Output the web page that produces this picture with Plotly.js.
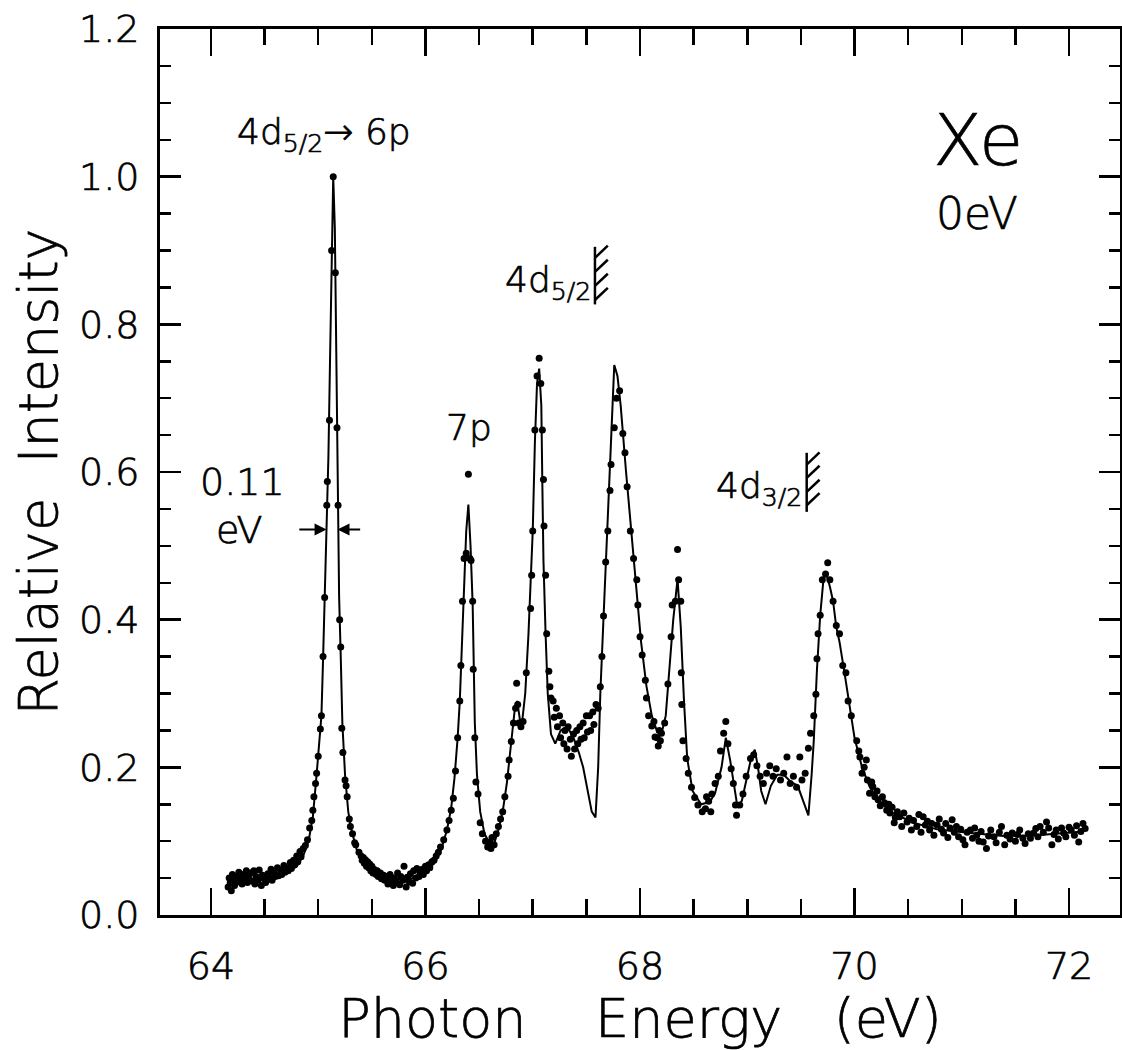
<!DOCTYPE html>
<html><head><meta charset="utf-8">
<script src="https://cdn.plot.ly/plotly-3.0.1.min.js"></script>
<style>body{margin:0;background:#fff} .main-svg text{stroke:#000;stroke-width:0.7px}</style>
</head><body><div id="chart" style="width:1122px;height:1050px"></div>
<script>
// Fitted curve (photon energy eV, relative intensity)
const fitCurve = [[64.20,0.045],[64.35,0.046],[64.50,0.048],[64.62,0.052],[64.72,0.058],[64.80,0.066],[64.86,0.080],[64.91,0.100],[64.95,0.133],[64.985,0.190],[65.01,0.230],[65.03,0.270],[65.045,0.345],[65.06,0.420],[65.08,0.520],[65.095,0.620],[65.11,0.750],[65.125,0.900],[65.14,1.000],[65.155,0.930],[65.165,0.780],[65.18,0.555],[65.195,0.430],[65.21,0.350],[65.225,0.260],[65.25,0.190],[65.28,0.140],[65.31,0.115],[65.36,0.088],[65.42,0.072],[65.50,0.060],[65.60,0.053],[65.75,0.048],[65.90,0.050],[66.00,0.058],[66.08,0.070],[66.15,0.090],[66.20,0.115],[66.24,0.145],[66.27,0.185],[66.30,0.240],[66.32,0.290],[66.34,0.360],[66.36,0.450],[66.38,0.520],[66.40,0.556],[66.42,0.500],[66.44,0.420],[66.45,0.340],[66.46,0.260],[66.48,0.190],[66.51,0.140],[66.55,0.110],[66.60,0.097],[66.64,0.097],[66.68,0.115],[66.72,0.140],[66.76,0.180],[66.80,0.235],[66.83,0.275],[66.855,0.290],[66.88,0.265],[66.90,0.260],[66.93,0.300],[66.96,0.380],[66.98,0.440],[67.00,0.520],[67.02,0.640],[67.04,0.720],[67.06,0.740],[67.08,0.690],[67.09,0.580],[67.10,0.480],[67.12,0.380],[67.14,0.300],[67.17,0.245],[67.21,0.232],[67.26,0.250],[67.32,0.255],[67.38,0.240],[67.43,0.220],[67.47,0.200],[67.51,0.170],[67.55,0.140],[67.585,0.132],[67.61,0.200],[67.63,0.300],[67.66,0.405],[67.68,0.480],[67.71,0.575],[67.735,0.660],[67.76,0.745],[67.79,0.730],[67.82,0.690],[67.87,0.600],[67.92,0.515],[67.97,0.440],[68.01,0.370],[68.06,0.310],[68.11,0.270],[68.16,0.248],[68.20,0.245],[68.24,0.270],[68.27,0.330],[68.31,0.400],[68.35,0.455],[68.38,0.390],[68.41,0.290],[68.44,0.212],[68.49,0.168],[68.57,0.150],[68.65,0.153],[68.70,0.165],[68.76,0.200],[68.80,0.240],[68.84,0.210],[68.87,0.180],[68.91,0.145],[68.95,0.155],[69.00,0.190],[69.04,0.215],[69.07,0.224],[69.10,0.200],[69.13,0.168],[69.17,0.150],[69.22,0.175],[69.28,0.190],[69.34,0.190],[69.41,0.180],[69.47,0.175],[69.52,0.155],[69.57,0.135],[69.60,0.190],[69.62,0.236],[69.65,0.333],[69.68,0.406],[69.71,0.454],[69.735,0.463],[69.77,0.445],[69.80,0.425],[69.83,0.390],[69.86,0.370],[69.91,0.325],[69.96,0.280],[70.00,0.240],[70.07,0.200],[70.14,0.174],[70.24,0.152],[70.36,0.138],[70.55,0.125],[70.77,0.116],[71.08,0.111],[71.39,0.107],[71.70,0.108],[72.13,0.113]];

// Measured points (photon energy eV, relative intensity)
const measured = [
[64.16,0.038],[64.17,0.050],[64.18,0.044],[64.19,0.033],[64.20,0.055],[64.21,0.046],[64.22,0.040],[64.24,0.052],[64.25,0.045],[64.26,0.058],[64.27,0.048],[64.29,0.042],[64.30,0.055],[64.31,0.050],[64.33,0.060],[64.34,0.044],[64.35,0.052],[64.37,0.057],[64.38,0.046],[64.40,0.060],[64.41,0.042],[64.42,0.052],[64.44,0.047],[64.45,0.061],[64.47,0.040],[64.48,0.054],[64.50,0.049],[64.51,0.044],[64.53,0.056],[64.54,0.051],[64.56,0.062],[64.57,0.047],[64.59,0.057],[64.60,0.052],[64.62,0.064],[64.63,0.053],[64.65,0.060],[64.66,0.055],[64.68,0.067],[64.69,0.058],[64.71,0.064],[64.72,0.060],[64.74,0.071],[64.75,0.063],[64.77,0.074],[64.78,0.068],[64.80,0.080],[64.81,0.072],[64.83,0.086],[64.84,0.079],[64.86,0.090],
[64.88,0.094],[64.90,0.102],[64.92,0.118],[64.94,0.128],[64.95,0.142],[64.96,0.160],[64.975,0.178],[64.985,0.192],[65.00,0.215],[65.02,0.252],[65.03,0.270],[65.045,0.350],[65.06,0.430],[65.08,0.555],[65.085,0.587],[65.105,0.670],[65.125,0.900],[65.14,1.000],[65.16,0.870],[65.175,0.660],[65.185,0.555],[65.20,0.400],[65.21,0.363],[65.22,0.253],[65.23,0.220],[65.25,0.183],[65.26,0.175],[65.27,0.160],[65.29,0.130],[65.30,0.120],[65.32,0.110],[65.34,0.098],[65.35,0.095],[65.38,0.085],
[65.40,0.080],[65.41,0.074],[65.42,0.078],[65.43,0.070],[65.44,0.075],[65.45,0.066],[65.46,0.072],[65.47,0.064],[65.48,0.069],[65.49,0.060],[65.50,0.066],[65.51,0.057],[65.52,0.062],[65.54,0.055],[65.55,0.060],[65.56,0.052],[65.58,0.057],[65.59,0.049],[65.61,0.054],
[65.62,0.047],[65.64,0.052],[65.65,0.042],[65.67,0.055],[65.68,0.046],[65.70,0.040],[65.71,0.050],[65.73,0.044],[65.74,0.057],[65.76,0.041],[65.77,0.052],[65.79,0.047],[65.80,0.066],[65.82,0.038],[65.83,0.051],[65.85,0.045],[65.86,0.056],[65.88,0.043],[65.89,0.060],[65.91,0.050],[65.92,0.063],[65.94,0.052],[65.95,0.058],[65.97,0.062],[65.98,0.055],[66.00,0.066],[66.01,0.060],[66.03,0.068],[66.04,0.064],[66.06,0.072],[66.08,0.074],[66.10,0.080],
[66.12,0.085],[66.14,0.092],[66.17,0.102],[66.20,0.115],[66.22,0.128],[66.24,0.142],[66.26,0.158],[66.28,0.195],[66.30,0.240],[66.32,0.290],[66.33,0.338],[66.345,0.425],[66.36,0.483],[66.38,0.490],[66.40,0.597],[66.415,0.483],[66.425,0.480],[66.44,0.425],[66.445,0.333],[66.46,0.240],[66.47,0.180],[66.49,0.164],[66.51,0.125],[66.53,0.110],[66.56,0.100],[66.58,0.092],[66.60,0.098],[66.61,0.090],[66.62,0.105],[66.64,0.095],[66.66,0.110],[66.68,0.120],[66.70,0.130],[66.72,0.140],[66.74,0.160],[66.77,0.188],[66.78,0.210],[66.80,0.235],[66.82,0.260],[66.84,0.280],[66.85,0.314],[66.86,0.285],[66.87,0.260],[66.89,0.255],[66.91,0.262],[66.94,0.328],[66.98,0.415],[66.99,0.460],[67.00,0.520],[67.02,0.657],[67.04,0.730],[67.06,0.754],[67.075,0.720],[67.09,0.657],[67.10,0.590],[67.105,0.527],[67.12,0.460],[67.13,0.381],[67.15,0.330],[67.16,0.309],[67.17,0.294],
[67.19,0.290],[67.20,0.268],[67.22,0.280],[67.23,0.255],[67.25,0.270],[67.26,0.240],[67.28,0.260],[67.29,0.232],[67.30,0.250],[67.32,0.225],[67.33,0.255],[67.35,0.238],[67.36,0.215],[67.38,0.245],[67.39,0.225],[67.41,0.250],[67.42,0.232],[67.44,0.255],[67.45,0.238],[67.47,0.260],[67.48,0.240],[67.50,0.270],[67.51,0.248],[67.53,0.270],[67.54,0.250],[67.56,0.275],[67.57,0.258],[67.59,0.285],[67.61,0.280],
[67.63,0.309],[67.645,0.350],[67.66,0.405],[67.68,0.478],[67.70,0.520],[67.72,0.575],[67.73,0.610],[67.76,0.660],[67.78,0.700],[67.81,0.710],[67.84,0.652],[67.86,0.626],[67.88,0.580],[67.91,0.520],[67.94,0.483],[67.97,0.454],[67.98,0.420],[68.00,0.377],[68.02,0.352],[68.05,0.318],[68.06,0.294],[68.08,0.270],[68.11,0.256],[68.13,0.262],[68.14,0.241],[68.16,0.240],[68.17,0.229],[68.18,0.250],[68.19,0.236],[68.20,0.246],[68.23,0.260],[68.26,0.313],[68.29,0.377],[68.30,0.420],[68.33,0.425],[68.35,0.495],[68.36,0.454],[68.38,0.425],[68.385,0.328],[68.39,0.285],[68.40,0.236],[68.43,0.212],[68.45,0.192],[68.48,0.173],[68.51,0.159],[68.54,0.149],[68.58,0.140],[68.61,0.144],[68.62,0.160],[68.64,0.154],[68.66,0.140],[68.67,0.164],[68.70,0.178],[68.73,0.188],[68.75,0.222],[68.78,0.246],[68.80,0.262],[68.82,0.232],[68.85,0.198],[68.87,0.178],[68.89,0.149],[68.90,0.135],[68.93,0.149],[68.96,0.164],[68.99,0.188],[69.03,0.212],[69.06,0.217],[69.09,0.202],[69.12,0.188],[69.15,0.178],[69.18,0.192],[69.21,0.202],[69.24,0.188],[69.27,0.198],[69.31,0.183],[69.34,0.192],[69.37,0.214],[69.40,0.178],[69.43,0.188],[69.46,0.173],[69.49,0.214],[69.51,0.183],[69.54,0.192],[69.57,0.226],[69.59,0.246],[69.62,0.270],[69.64,0.299],[69.65,0.347],[69.66,0.381],[69.68,0.406],[69.70,0.454],[69.73,0.462],[69.75,0.477],[69.77,0.454],[69.80,0.425],[69.83,0.392],[69.86,0.381],[69.89,0.338],[69.92,0.328],[69.94,0.290],[69.97,0.270],[70.02,0.236],[70.04,0.222],
[70.05,0.214],[70.07,0.192],[70.09,0.200],[70.11,0.210],[70.12,0.183],[70.14,0.165],[70.16,0.180],[70.17,0.174],[70.19,0.160],[70.21,0.168],[70.22,0.156],[70.24,0.148],[70.26,0.160],[70.28,0.152],[70.30,0.142],[70.32,0.150],[70.33,0.138],[70.35,0.146],[70.37,0.125],[70.38,0.132],[70.40,0.140],[70.42,0.133],[70.44,0.120],[70.46,0.138],[70.49,0.126],[70.51,0.131],[70.53,0.115],[70.55,0.128],[70.58,0.120],[70.60,0.136],[70.62,0.112],[70.64,0.133],[70.66,0.122],[70.68,0.127],[70.70,0.115],[70.72,0.124],[70.74,0.108],[70.77,0.122],[70.79,0.130],[70.81,0.116],[70.83,0.111],[70.85,0.124],[70.87,0.105],[70.89,0.118],[70.91,0.129],[70.93,0.112],[70.95,0.120],[70.97,0.106],[70.99,0.116],[71.01,0.102],[71.03,0.095],[71.05,0.112],[71.08,0.115],[71.10,0.104],[71.12,0.118],[71.14,0.108],[71.16,0.100],[71.18,0.113],[71.20,0.099],[71.23,0.090],[71.25,0.107],[71.27,0.115],[71.30,0.106],[71.32,0.098],[71.35,0.112],[71.37,0.120],[71.40,0.095],[71.42,0.108],[71.45,0.103],[71.47,0.111],[71.50,0.100],[71.52,0.109],[71.54,0.115],[71.57,0.104],[71.59,0.097],[71.62,0.110],[71.64,0.104],[71.67,0.111],[71.69,0.117],[71.71,0.106],[71.73,0.120],[71.76,0.112],[71.79,0.126],[71.81,0.118],[71.84,0.095],[71.86,0.109],[71.88,0.115],[71.90,0.103],[71.93,0.118],[71.95,0.111],[71.97,0.106],[72.00,0.119],[72.02,0.115],[72.05,0.108],[72.07,0.121],[72.09,0.099],[72.11,0.113],[72.13,0.124],[72.15,0.117]
];

// Axis tick values
const xTickVals = [64, 66, 68, 70, 72];
const yTickVals = [0.0, 0.2, 0.4, 0.6, 0.8, 1.0, 1.2];

const FONT = 'DejaVu Sans';
const W = 300;
const ink = '#000';
const NB = '\u00A0';

const traces = [
  {x: fitCurve.map(p => p[0]), y: fitCurve.map(p => p[1]), type: 'scatter', mode: 'lines',
   line: {color: ink, width: 2}, hoverinfo: 'skip', showlegend: false},
  {x: measured.map(p => p[0]), y: measured.map(p => p[1]), type: 'scatter', mode: 'markers',
   marker: {color: ink, size: 7, symbol: 'circle'}, showlegend: false}
];

function seg(x0, y0, x1, y1) {
  return {type: 'line', xref: 'x', yref: 'y', x0, y0, x1, y1, line: {color: ink, width: 2.5}};
}
// threshold markers (vertical bar with hatching)
function threshold(xv, yBot, yTop, attach) {
  const out = [seg(xv, yBot, xv, yTop)];
  attach.forEach(a => out.push(seg(xv, a, xv + 0.12, a + 0.0165)));
  return out;
}
const shapes = [].concat(
  threshold(67.58, 0.827, 0.905, [0.890, 0.871, 0.852, 0.833]),
  threshold(69.554, 0.546, 0.626, [0.610, 0.592, 0.573, 0.555])
);

function txt(text, x, y, size, extra) {
  return Object.assign({text, x, y, xref: 'x', yref: 'y', showarrow: false,
    font: {family: FONT, size, color: ink, weight: W}}, extra || {});
}
const annotations = [
  txt('4d<sub>5/2</sub>\u2192 6p', 65.05, 1.057, 36),
  txt('Xe', 71.15, 1.049, 72),
  txt('0eV', 71.14, 0.950, 44),
  txt('4d<sub>5/2</sub>', 67.56, 0.856, 36, {xanchor: 'right'}),
  txt('4d<sub>3/2</sub>', 69.53, 0.577, 36, {xanchor: 'right'}),
  txt('7p', 66.41, 0.66, 36),
  txt('0.11', 64.29, 0.586, 38),
  txt('eV', 64.26, 0.522, 38),
  {x: 65.078, y: 0.522, ax: 64.81, ay: 0.522, axref: 'x', ayref: 'y', xref: 'x', yref: 'y',
   text: '', showarrow: true, arrowhead: 2, arrowsize: 1.2, arrowwidth: 2, arrowcolor: ink},
  {x: 65.180, y: 0.522, ax: 65.405, ay: 0.522, axref: 'x', ayref: 'y', xref: 'x', yref: 'y',
   text: '', showarrow: true, arrowhead: 2, arrowsize: 1.2, arrowwidth: 2, arrowcolor: ink}
];

const axisCommon = {
  showline: true, linecolor: ink, linewidth: 3, mirror: 'allticks',
  ticks: 'inside', tickcolor: ink, tickwidth: 2.5,
  showgrid: false, zeroline: false,
  tickfont: {family: FONT, size: 38, color: ink, weight: W}
};

const layout = {
  width: 1122, height: 1050,
  margin: {l: 160, r: 2, t: 29, b: 135},
  paper_bgcolor: '#fff', plot_bgcolor: '#fff',
  showlegend: false,
  xaxis: Object.assign({}, axisCommon, {
    range: [63.525, 72.475], tickvals: xTickVals, ticktext: xTickVals.map(String),
    ticklen: 27, ticklabelstandoff: 15,
    minor: {dtick: 0.5, tick0: 64, ticklen: 16, tickwidth: 2.5, tickcolor: ink, ticks: 'inside'},
    title: {text: 'Photon' + NB.repeat(4) + 'Energy' + NB.repeat(3) + '(eV)', standoff: 6,
            font: {family: FONT, size: 54, color: ink, weight: W}}
  }),
  yaxis: Object.assign({}, axisCommon, {
    range: [0, 1.2], tickvals: yTickVals, ticktext: yTickVals.map(v => v.toFixed(1)),
    ticklen: 21, ticklabelstandoff: 10,
    minor: {dtick: 0.05, tick0: 0, ticklen: 11, tickwidth: 2.5, tickcolor: ink, ticks: 'inside'},
    title: {text: 'Relative' + NB + NB + 'Intensity', standoff: 5,
            font: {family: FONT, size: 54, color: ink, weight: W}}
  }),
  shapes, annotations
};

Plotly.newPlot('chart', traces, layout, {displayModeBar: false, staticPlot: true});
</script></body></html>
